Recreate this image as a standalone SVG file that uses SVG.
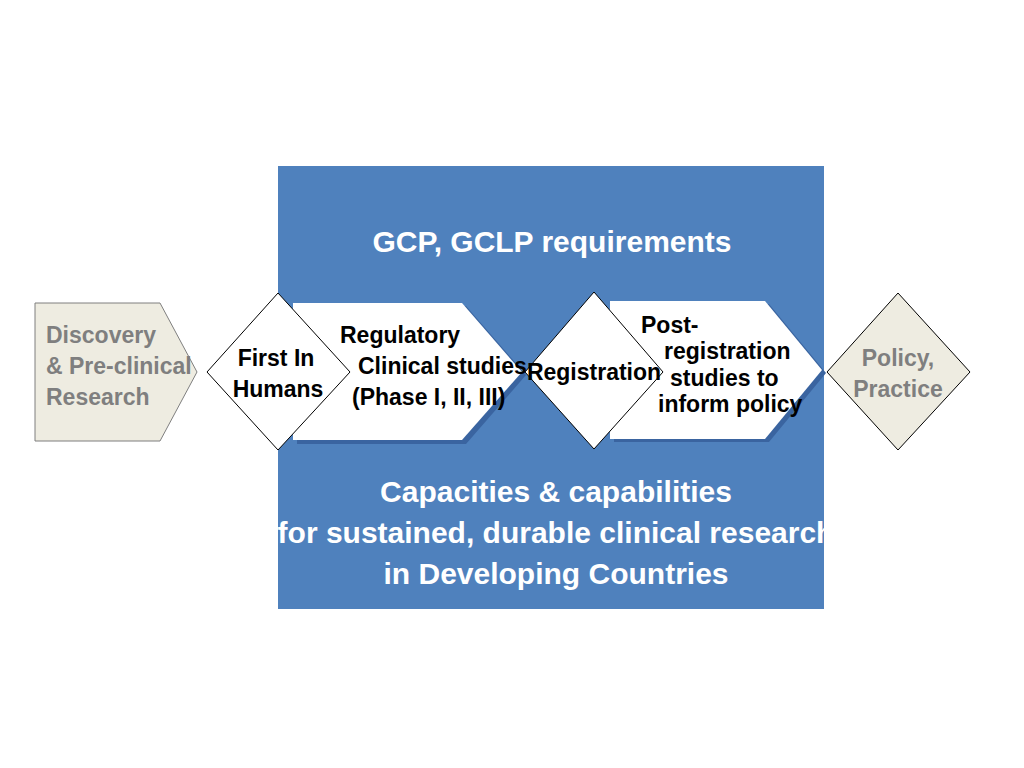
<svg xmlns="http://www.w3.org/2000/svg" width="1024" height="768" viewBox="0 0 1024 768">
<style>
text{font-family:"Liberation Sans Narrow","Liberation Sans",Arial,sans-serif;font-weight:bold}
.w{fill:#fff}
.k{fill:#000;font-size:23px}
.g{fill:#7f7f7f;font-size:23px}
.big{fill:#fff;font-size:30px}
.wh{fill:#fff;stroke:#000;stroke-width:1}
.sh{fill:#3a64a0}
</style>
<rect width="1024" height="768" fill="#fff"/>
<rect x="278" y="166" width="546" height="443" fill="#4f81bd"/>
<text class="big" x="552" y="252" text-anchor="middle" font-size="28">GCP, GCLP requirements</text>
<g id="discovery">
<polygon points="35,303 160,303 197,372 160,441 35,441" fill="#eeece1" stroke="#7f7f7f"/>
<text class="g" x="46" y="343">Discovery</text>
<text class="g" x="46" y="374">&amp; Pre-clinical</text>
<text class="g" x="46" y="405">Research</text>
</g>
<g id="clinical">
<polygon points="297,306 466,306 526,375 466,444 297,444" class="sh"/>
<polygon points="293,303 462,303 522,372 462,440 293,440" fill="#fff"/>
<text class="k" x="340" y="343">Regulatory</text>
<text class="k" x="358" y="374">Clinical studies</text>
<text class="k" x="352" y="405">(Phase I, II, III)</text>
</g>
<g id="fih">
<polygon points="278,293 350,372 278,450 207,372" class="wh"/>
<text class="k" x="276" y="366" text-anchor="middle">First In</text>
<text class="k" x="278" y="397" text-anchor="middle">Humans</text>
</g>
<g id="post">
<polygon points="614,304 769,304 826,373 769,442 614,442" class="sh"/>
<polygon points="610,301 765,301 822,370 765,439 610,439" fill="#fff"/>
<text class="k" x="641" y="333">Post-</text>
<text class="k" x="664" y="359">registration</text>
<text class="k" x="670" y="386">studies to</text>
<text class="k" x="658" y="412">inform policy</text>
</g>
<g id="registration">
<polygon points="594,292 663,372 594,449 525,372" class="wh"/>
<text class="k" x="594" y="380" text-anchor="middle">Registration</text>
</g>
<g id="policy">
<polygon points="898,293 970,372 898,450 827,372" fill="#eeece1" stroke="#000"/>
<text class="g" x="898" y="366" text-anchor="middle">Policy,</text>
<text class="g" x="898" y="397" text-anchor="middle">Practice</text>
</g>
<text class="big" x="556" y="502" text-anchor="middle">Capacities &amp; capabilities</text>
<text class="big" x="556" y="543" text-anchor="middle">for sustained, durable clinical research</text>
<text class="big" x="556" y="584" text-anchor="middle">in Developing Countries</text>
<g id="connectors"></g>
</svg>
